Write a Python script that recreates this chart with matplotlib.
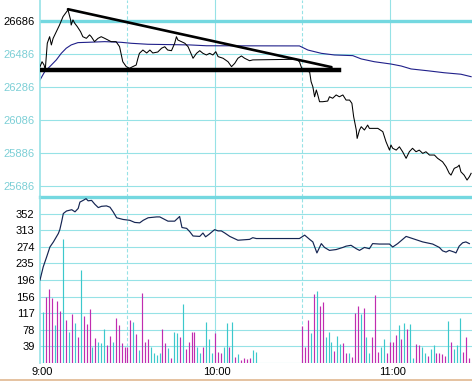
import numpy as np
import matplotlib.pyplot as plt
from matplotlib.lines import Line2D

plt.rcParams['font.family'] = ['Liberation Sans', 'DejaVu Sans']

# ---- price panel (minutes after 9:00) ----
price_t = [0, 0.7, 1.4, 1.8, 2.5, 3.3, 3.9, 4.5, 5.6, 6.7, 7.9, 9.6, 10.5, 10.7, 11.3,
           11.9, 12.8, 13.9, 14.7, 15.9, 17.0, 17.6, 18.7, 19.9, 21.0, 22.2, 23.3, 24.4,
           26.1, 27.3, 28.4, 29.6, 30.7, 31.8, 33.0, 33.6, 34.1, 35.3, 36.6, 37.7, 38.7,
           40.4, 41.7, 42.8, 43.8, 45.1, 46.2, 46.8, 47.3, 48.5, 49.7, 50.8, 52.0, 52.5,
           53.7, 54.8, 55.9, 57.1, 58.2, 59.3, 60.3, 61.1, 62.8, 64.5, 65.7, 66.8, 67.9,
           69.1, 70.2, 71.9, 73.0, 87.9, 89.0, 90.0, 92.5, 93.0, 93.6, 94.2, 94.8, 95.3,
           95.9, 97.0, 98.7, 99.3, 100.4, 101.6, 102.7, 103.9, 105.0, 106.2, 107.0, 107.6,
           108.5, 108.8, 109.6, 110.2, 111.3, 112.4, 113.0, 114.1, 115.9, 117.6, 118.7,
           119.9, 120.4, 121.0, 122.2, 123.3, 124.4, 125.6, 126.7, 127.8, 129.0, 130.1,
           131.3, 132.4, 133.6, 135.3, 136.4, 138.1, 139.3, 140.4, 141.0, 142.1, 143.3,
           143.8, 144.4, 145.5, 146.5, 147.3, 147.9]
price = [26409, 26439, 26419, 26389, 26551, 26591, 26541, 26581, 26622, 26662, 26713, 26754,
         26693, 26662, 26693, 26673, 26652, 26622, 26591, 26581, 26602, 26591, 26561, 26581,
         26591, 26581, 26571, 26561, 26561, 26530, 26439, 26409, 26399, 26409, 26419, 26460,
         26490, 26510, 26492, 26510, 26492, 26498, 26521, 26530, 26510, 26506, 26551, 26591,
         26571, 26561, 26551, 26530, 26480, 26460, 26490, 26506, 26490, 26480, 26490, 26480,
         26500, 26470, 26460, 26439, 26409, 26429, 26460, 26474, 26460, 26445, 26450, 26454,
         26439, 26389, 26377, 26318, 26287, 26226, 26267, 26237, 26196, 26196, 26200, 26226,
         26217, 26237, 26226, 26237, 26206, 26206, 26186, 26105, 26024, 25973, 26024, 26044,
         26024, 26054, 26034, 26034, 26034, 26014, 25953, 25902, 25933, 25913, 25902, 25922,
         25892, 25852, 25892, 25913, 25892, 25902, 25882, 25892, 25872, 25872, 25852, 25831,
         25801, 25761, 25750, 25791, 25801, 25811, 25770, 25750, 25720, 25740, 25761]

avg_t = [0, 1.6, 3.9, 5.6, 7.3, 9.0, 10.7, 13.0, 16.4, 22.2, 27.8, 31.3, 37.0, 51.4, 57.1,
         89.0, 91.9, 94.2, 96.5, 101.0, 107.3, 110.2, 114.7, 120.4, 123.9, 127.3, 133.0,
         138.7, 144.4, 147.9]
avg = [26328, 26378, 26419, 26450, 26490, 26521, 26541, 26555, 26557, 26561, 26557, 26551,
       26545, 26541, 26536, 26535, 26510, 26500, 26490, 26480, 26476, 26456, 26439, 26425,
       26413, 26395, 26384, 26372, 26363, 26348]

# hand-drawn trend lines: (t0, p0, t1, p1)
trend_down = (9.6, 26758, 100.0, 26406)
support = (0, 26386, 102.7, 26386)

price_ticks = [26686, 26486, 26286, 26086, 25886, 25686]

# ---- volume panel ----
vol_t = list(range(1, 75)) + list(range(90, 148))
vol = [120, 154, 173, 152, 89, 146, 122, 291, 101, 73, 115, 93, 61, 218, 110, 91, 126, 38,
       59, 49, 47, 79, 42, 63, 49, 106, 89, 46, 38, 36, 101, 97, 68, 30, 165, 49, 55, 38,
       22, 18, 24, 79, 47, 34, 10, 73, 69, 61, 138, 32, 49, 73, 73, 38, 22, 36, 97, 55,
       22, 71, 26, 22, 36, 94, 38, 97, 14, 20, 6, 10, 8, 10, 30, 26,
       86, 38, 101, 71, 162, 169, 134, 144, 61, 73, 49, 28, 63, 44, 47, 24, 24, 14, 118,
       134, 115, 130, 60, 22, 61, 159, 26, 38, 55, 22, 49, 49, 65, 89, 57, 94, 79, 91, 12,
       44, 42, 36, 22, 16, 32, 42, 24, 22, 20, 16, 99, 49, 32, 42, 106, 26, 61, 10]
vol_up = [0, 1, 1, 1, 0, 1, 1, 0, 1, 0, 1, 0, 1, 0, 1, 1, 1, 0, 1, 0, 0, 0, 1, 1, 0, 1, 1,
          1, 1, 1, 1, 0, 1, 0, 1, 1, 1, 0, 0, 0, 0, 1, 1, 0, 1, 0, 0, 1, 0, 1, 1, 1, 1, 0,
          0, 1, 0, 0, 0, 1, 1, 1, 0, 0, 1, 0, 1, 0, 1, 1, 1, 1, 0, 0,
          1, 1, 1, 0, 1, 0, 1, 1, 0, 0, 0, 1, 0, 0, 1, 1, 0, 1, 1, 1, 0, 1, 0, 0, 1, 1, 1,
          0, 0, 1, 1, 1, 1, 0, 1, 0, 1, 0, 0, 1, 1, 0, 0, 1, 0, 0, 1, 1, 1, 1, 0, 1, 0, 0,
          0, 1, 1, 1]

line_t = [0, 1.1, 2.3, 3.4, 4.6, 6.3, 6.8, 7.4, 8.0, 9.1, 10.9, 12.0, 13.1, 13.7, 14.8,
          15.8, 16.5, 17.7, 18.8, 20.0, 21.1, 22.8, 24.0, 25.1, 26.3, 28.5, 30.8, 32.5,
          34.2, 35.4, 37.1, 40.0, 41.1, 43.9, 46.2, 47.9, 48.7, 50.3, 51.4, 52.5, 54.8,
          55.9, 56.8, 58.0, 59.9, 61.1, 62.2, 63.4, 65.1, 67.9, 71.9, 73.0, 74.2, 89.0,
          90.8, 92.5, 93.6, 95.0, 96.5, 97.6, 99.3, 101.6, 103.9, 105.0, 106.7, 108.5,
          109.6, 111.3, 113.0, 114.1, 116.4, 119.9, 121.0, 122.7, 125.6, 127.8, 131.3,
          134.7, 137.0, 138.1, 139.3, 140.4, 142.1, 142.7, 143.8, 145.0, 146.1, 147.3]
line_v = [195, 226, 250, 273, 285, 305, 314, 332, 352, 358, 361, 356, 364, 379, 383, 387,
          382, 383, 374, 366, 369, 370, 367, 356, 342, 338, 336, 331, 330, 336, 342, 344,
          344, 334, 334, 345, 319, 317, 309, 299, 298, 306, 297, 303, 314, 311, 311, 306,
          298, 289, 291, 295, 293, 293, 301, 291, 285, 259, 281, 272, 265, 267, 272, 275,
          277, 269, 265, 272, 269, 281, 280, 280, 273, 281, 298, 293, 285, 280, 272, 264,
          261, 265, 261, 259, 275, 283, 285, 281]

vol_ticks = [39, 78, 117, 156, 196, 235, 274, 313, 352]
time_ticks = [0, 60, 120]
time_labels = ['9:00', '10:00', '11:00']

GRID = '#96e2e6'
THICK = '#74d8e0'
LABEL = '#7ccfd6'
MAG = '#c02cb0'
CYA = '#3cc8cc'

W, H = 472, 381
fig = plt.figure(figsize=(W / 100, H / 100), dpi=100)
fig.patch.set_facecolor('white')

x0 = 40 / W
ax1 = fig.add_axes([x0, 1 - 197 / H, 1 - x0, 197 / H])
ax2 = fig.add_axes([x0, 1 - 362.7 / H, 1 - x0, (362.7 - 197) / H])

for ax in (ax1, ax2):
    ax.set_xlim(0, 148.2)
    for s in ('top', 'right', 'bottom'):
        ax.spines[s].set_visible(False)
    ax.spines['left'].set_color(GRID)
    ax.spines['left'].set_linewidth(1.2)
    ax.tick_params(length=0, labelsize=8, pad=4)
    ax.set_xticks([])
    for t, ls in ((30, (0, (3, 2))), (60, '-'), (90, (0, (3, 2))), (120, '-')):
        ax.axvline(t, color=GRID, lw=0.8, ls=ls, zorder=0)

# price panel
ax1.set_ylim(25617, 26814)
for p in price_ticks:
    ax1.axhline(p, color=THICK if p == 26686 else GRID,
                lw=2.4 if p == 26686 else 0.8, zorder=0)
ax1.set_yticks(price_ticks)
ax1.set_yticklabels([str(p) for p in price_ticks])
for lbl, p in zip(ax1.get_yticklabels(), price_ticks):
    lbl.set_color('black' if p == 26686 else LABEL)

ax1.plot(avg_t, avg, color='#20208a', lw=0.8, zorder=2)
ax1.plot(price_t, price, color='black', lw=0.75, zorder=3)
ax1.plot(trend_down[::2], trend_down[1::2], color='black', lw=1.9,
         solid_capstyle='round', zorder=4)
ax1.plot(support[::2], support[1::2], color='black', lw=3.2, zorder=4)

# volume panel
ax2.set_ylim(0, 391)
for v in vol_ticks + [0]:
    ax2.axhline(v, color=GRID, lw=0.8, zorder=0)
ax2.axhline(391, color=THICK, lw=2.4, zorder=0, clip_on=False)
ax2.set_yticks(vol_ticks)
ax2.set_yticklabels([str(v) for v in vol_ticks])
ax2.vlines(vol_t, 0, vol, colors=[MAG if u else CYA for u in vol_up], lw=0.85, zorder=2)
ax2.plot(line_t, line_v, color='#142452', lw=0.85, zorder=3)

for t, s in zip(time_ticks, time_labels):
    ax2.text(t + 0.8, -10, s, ha='center', va='top', fontsize=8, color='black',
             clip_on=False)

fig.add_artist(Line2D([0, 1], [1 - 380 / H] * 2, color='#e0b890', lw=1.2))

fig.savefig('out.png', dpi=100)
